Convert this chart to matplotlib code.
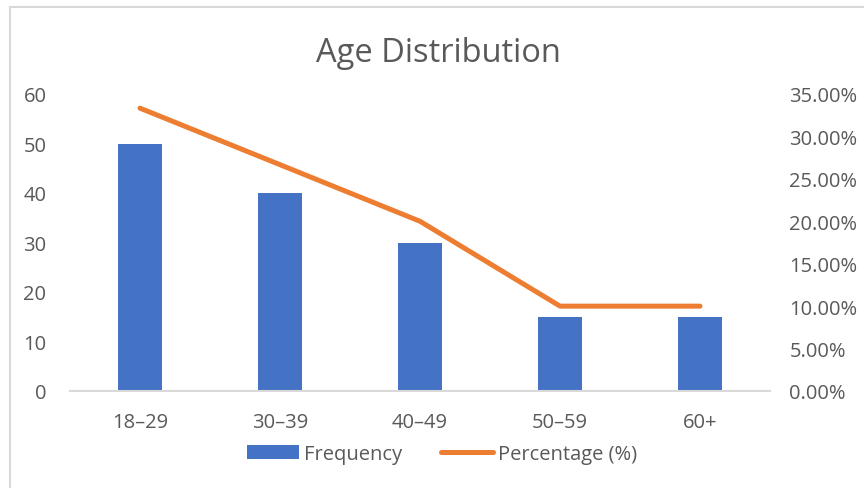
import matplotlib
matplotlib.use("Agg")
import matplotlib.pyplot as plt
from matplotlib.ticker import FuncFormatter, MultipleLocator
from matplotlib.lines import Line2D
from matplotlib.patches import Patch, Rectangle

categories = ["18–29", "30–39", "40–49", "50–59", "60+"]
frequency = [50, 40, 30, 15, 15]
percentage = [33.33, 26.67, 20.0, 10.0, 10.0]

BLUE = "#4472C4"
ORANGE = "#ED7D31"
TXT = "#595959"
GRID = "#D9D9D9"

plt.rcParams["font.family"] = ["Open Sans", "DejaVu Sans"]

fig = plt.figure(figsize=(8.64, 4.89), dpi=100)
fig.patches.append(Rectangle((10/864, -0.1), 2.0, 1.1 - 8/489, transform=fig.transFigure,
                             fill=False, edgecolor=GRID, linewidth=1.5))
ax = fig.add_axes([70/864, 1-392/489, 700/864, (392-95)/489])
x = list(range(len(categories)))
ax.bar(x, frequency, width=0.314, color=BLUE, zorder=2)
ax.set_xlim(-0.5, len(categories)-0.5)
ax.set_ylim(0, 60)
ax.yaxis.set_major_locator(MultipleLocator(10))
ax.set_xticks(x)
ax.set_xticklabels(categories)
for s in ["top", "right", "left"]:
    ax.spines[s].set_visible(False)
ax.spines["bottom"].set_color(GRID)
ax.spines["bottom"].set_linewidth(1.5)
ax.tick_params(axis="both", length=0, labelsize=14.5, colors=TXT)
ax.tick_params(axis="x", pad=15)
ax.tick_params(axis="y", pad=17)

ax2 = ax.twinx()
ax2.plot(x, [p/100 for p in percentage], color=ORANGE, linewidth=3.6,
         solid_capstyle="round", solid_joinstyle="round", zorder=3)
ax2.set_ylim(0, 0.35)
ax2.yaxis.set_major_locator(MultipleLocator(0.05))
ax2.yaxis.set_major_formatter(FuncFormatter(lambda v, p: f"{v*100:.2f}%"))
for s in ax2.spines.values():
    s.set_visible(False)
ax2.tick_params(axis="y", length=0, labelsize=14.5, colors=TXT, pad=14)

fig.text(438/864, 1-53/489, "Age Distribution", ha="center", va="center",
         fontsize=23.5, color=TXT)

handles = [Patch(facecolor=BLUE, edgecolor="none"),
           Line2D([0], [0], color=ORANGE, linewidth=3.6, solid_capstyle="round")]
fig.legend(handles, ["Frequency", "Percentage (%)"], loc="center",
           bbox_to_anchor=(442/864, 1-455/489), ncol=2, frameon=False,
           fontsize=14.5, labelcolor=TXT, handlelength=2.6, handleheight=0.75,
           handletextpad=0.25, columnspacing=1.9)

fig.savefig("out.png", dpi=100, facecolor="white")
